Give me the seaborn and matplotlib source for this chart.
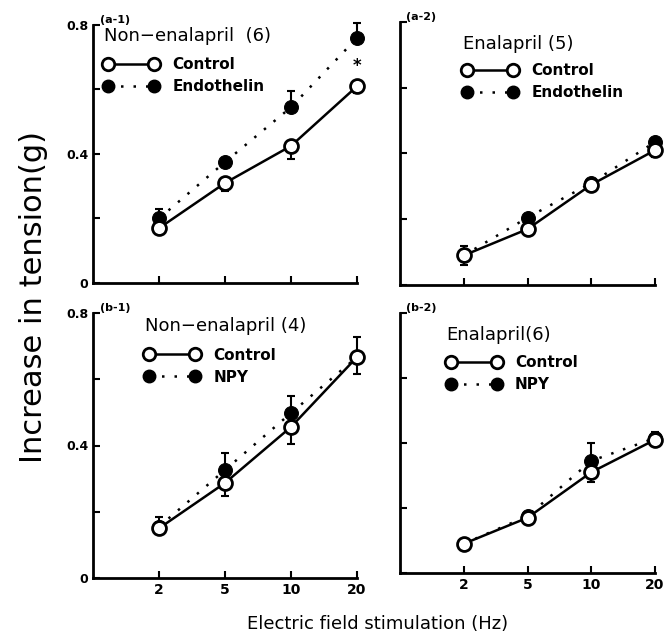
import numpy as np
import pandas as pd
import matplotlib
matplotlib.use("Agg")
import matplotlib.pyplot as plt
from matplotlib.lines import Line2D
import seaborn as sns

# ---------------- data ----------------
freq_labels = ["2", "5", "10", "20"]

a1_ctrl = [0.17, 0.31, 0.425, 0.61]
a1_ctrl_err = [0.015, 0.025, 0.04, 0.02]
a1_trt = [0.20, 0.375, 0.545, 0.76]
a1_trt_err = [0.03, 0.01, 0.05, 0.045]

a2_ctrl = [0.09, 0.17, 0.305, 0.41]
a2_ctrl_err = [0.03, 0.01, 0.01, 0.02]
a2_trt = [0.09, 0.205, 0.31, 0.435]
a2_trt_err = [0.03, 0.01, 0.01, 0.01]

b1_ctrl = [0.15, 0.287, 0.456, 0.667]
b1_ctrl_err = [0.01, 0.04, 0.05, 0.05]
b1_trt = [0.155, 0.326, 0.498, 0.667]
b1_trt_err = [0.03, 0.05, 0.05, 0.06]

b2_ctrl = [0.09, 0.17, 0.31, 0.41]
b2_ctrl_err = [0.01, 0.01, 0.03, 0.02]
b2_trt = [0.09, 0.175, 0.345, 0.415]
b2_trt_err = [0.01, 0.01, 0.055, 0.02]

panel_tags = ["(a-1)", "(a-2)", "(b-1)", "(b-2)"]
panel_titles = ["Non\u2212enalapril  (6)", "Enalapril (5)", "Non\u2212enalapril (4)", "Enalapril(6)"]
treat_names = ["Endothelin", "Endothelin", "NPY", "NPY"]
ctrl_name = "Control"

# ---------------- figure ----------------
sns.set_theme(style="ticks")
plt.rcParams['font.family'] = ['DejaVu Sans']
plt.rcParams['text.color'] = 'black'
plt.rcParams['axes.labelcolor'] = 'black'
plt.rcParams['xtick.color'] = 'black'
plt.rcParams['ytick.color'] = 'black'

fig = plt.figure(figsize=(6.67, 6.43), dpi=100)
rects = [
    [93/667, 1-283/643, 264/667, 258/643],
    [400/667, 1-285/643, 255/667, 263/643],
    [93/667, 1-578/643, 264/667, 265/643],
    [400/667, 1-573/643, 255/667, 260/643],
]
legend_anchor = [(0.035, 1.0), (0.24, 0.955), (0.19, 0.99), (0.175, 0.955)]
legend_sep = [9, 7, 9, 8]

panels = [
    (a1_ctrl, a1_ctrl_err, a1_trt, a1_trt_err),
    (a2_ctrl, a2_ctrl_err, a2_trt, a2_trt_err),
    (b1_ctrl, b1_ctrl_err, b1_trt, b1_trt_err),
    (b2_ctrl, b2_ctrl_err, b2_trt, b2_trt_err),
]

pos = np.arange(len(freq_labels))
dotted = (0, (1, 4))

for i, (rect, (c, ce, t, te)) in enumerate(zip(rects, panels)):
    ax = fig.add_axes(rect)
    df = pd.DataFrame({"pos": np.concatenate([pos, pos]),
                       "val": c + t,
                       "grp": ["ctrl"] * 4 + ["trt"] * 4})
    # treatment (filled, dotted)
    sns.lineplot(data=df[df.grp == "trt"], x="pos", y="val", ax=ax, color="black",
                 lw=1.8, linestyle=dotted, marker="o", markersize=10,
                 markerfacecolor="black", markeredgecolor="black", clip_on=False,
                 zorder=3)
    # control (open, solid)
    sns.lineplot(data=df[df.grp == "ctrl"], x="pos", y="val", ax=ax, color="black",
                 lw=1.8, linestyle="-", marker="o", markersize=10,
                 markerfacecolor="white", markeredgecolor="black",
                 markeredgewidth=2.0, clip_on=False, zorder=4)
    # one-sided error bars
    ax.errorbar(pos, c, yerr=[ce, [0] * 4], fmt="none", ecolor="black",
                elinewidth=1.5, capsize=3, capthick=1.5, clip_on=False, zorder=2)
    ax.errorbar(pos, t, yerr=[[0] * 4, te], fmt="none", ecolor="black",
                elinewidth=1.5, capsize=3, capthick=1.5, clip_on=False, zorder=2)

    ax.set_xlim(-1, 3)
    ax.set_ylim(0, 0.8)
    ax.set_xticks(pos)
    ax.set_xticklabels(freq_labels if i >= 2 else [""] * 4, fontweight="bold",
                       fontsize=10)
    ax.set_yticks([0, 0.4, 0.8])
    ax.set_yticks([0.2, 0.6], minor=True)
    if i % 2 == 0:
        ax.set_yticklabels(["0", "0.4", "0.8"], fontweight="bold", fontsize=9)
    else:
        ax.set_yticklabels([])
    ax.tick_params(which="both", direction="in", length=5, width=1.5,
                   color="black", labelcolor="black")
    ax.set_xlabel("")
    ax.set_ylabel("")
    sns.despine(ax=ax)
    for sp in ["left", "bottom"]:
        ax.spines[sp].set_linewidth(2.0)
        ax.spines[sp].set_color("black")
    ax.set_facecolor("white")

    ax.text(0.025, 1.0, panel_tags[i], transform=ax.transAxes, fontsize=8,
            fontweight="bold", va="bottom", ha="left", color="black")

    handles = [
        Line2D([0], [0], color="black", lw=1.8, marker="o", markersize=9,
               markerfacecolor="white", markeredgecolor="black", markeredgewidth=2.0),
        Line2D([0], [0], color="black", lw=1.8, linestyle=dotted, marker="o",
               markersize=9, markerfacecolor="black", markeredgecolor="black"),
    ]
    leg = ax.legend(handles, [ctrl_name, treat_names[i]], title=panel_titles[i],
                    loc="upper left", bbox_to_anchor=legend_anchor[i], frameon=False,
                    numpoints=2, handlelength=3.6, handletextpad=0.9,
                    labelspacing=0.45, borderaxespad=0, borderpad=0.1,
                    alignment="left",
                    prop={"size": 11, "weight": "bold"}, title_fontsize=13)
    leg.get_title().set_color("black")
    leg._legend_box.sep = legend_sep[i]
    for txt in leg.get_texts():
        txt.set_color("black")

    if i == 0:
        ax.text(3, 0.645, "*", ha="center", va="bottom", fontsize=12,
                fontweight="bold", color="black")

fig.text(0.05, 0.538, "Increase in tension(g)", rotation=90, ha="center",
         va="center", fontsize=22, color="black")
fig.text(0.566, 0.016, "Electric field stimulation (Hz)", ha="center",
         va="bottom", fontsize=13, color="black")

fig.patch.set_facecolor("white")
fig.savefig("out.png", dpi=100, facecolor="white")
